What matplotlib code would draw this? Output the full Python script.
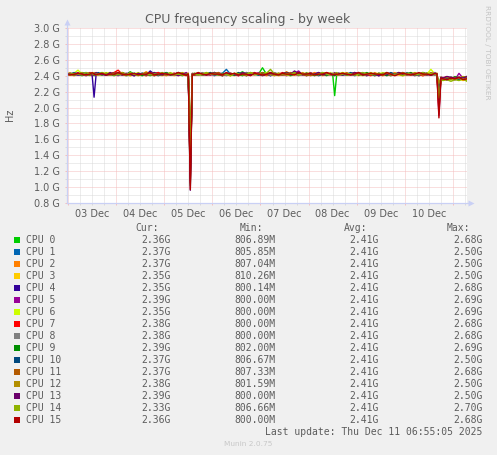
import matplotlib
matplotlib.use("Agg")
import matplotlib.pyplot as plt
from matplotlib.ticker import MultipleLocator, FuncFormatter, NullFormatter
from matplotlib.patches import Rectangle

W, H = 497, 455

# sample times, hours since 03 Dec 00:00
hours = [-1, 1, 3, 5, 7, 9, 11, 12, 13, 14,
         15, 17, 19, 21, 23, 25, 27, 29, 31, 33, 35, 37, 39, 41, 43, 45, 47, 49, 51, 53, 55, 57, 59,
         60, 61, 62,
         63, 65, 67, 69, 71, 73, 75, 77, 79, 81, 83, 85, 87, 89, 91, 93, 95, 97, 99, 101, 103, 105,
         107, 109, 111, 113, 115, 117, 119, 121, 123, 125, 127, 129, 131,
         132, 133, 134,
         135, 137, 139, 141, 143, 145, 147, 149, 151, 153, 155, 157, 159, 161, 163, 165, 167, 169,
         171, 173, 175, 177, 179, 181, 183,
         184, 185, 186,
         187, 189, 191, 193, 195, 197, 199]

# frequencies in GHz
cpu_0 = [2.42, 2.41, 2.43, 2.42, 2.40, 2.42, 2.43,  2.41, 2.42, 2.41,
         2.42, 2.44, 2.41, 2.42, 2.40,  2.43, 2.42, 2.41, 2.45, 2.42,  2.41, 2.43, 2.42, 2.40, 2.42,  2.44, 2.41, 2.42, 2.43, 2.41,  2.42, 2.40, 2.42,
         2.41, 1.02, 2.42,
         2.42, 2.41, 2.43, 2.42, 2.44,  2.41, 2.42, 2.40, 2.43, 2.42,  2.41, 2.42, 2.45, 2.42, 2.41,  2.43, 2.42, 2.50, 2.42, 2.41,  2.42, 2.43, 2.41, 2.42, 2.40,  2.42, 2.44, 2.41, 2.42, 2.43,  2.41, 2.42, 2.42, 2.40, 2.43,
         2.42, 2.15, 2.41,
         2.42, 2.43, 2.41, 2.42, 2.44,  2.41, 2.42, 2.40, 2.43, 2.42,  2.41, 2.43, 2.42, 2.41, 2.42,  2.44, 2.42, 2.41, 2.43, 2.42,  2.40, 2.42, 2.43, 2.41, 2.42,
         2.42, 2.10, 2.36,  2.37, 2.35, 2.38, 2.36, 2.37, 2.35, 2.36]
cpu_1 = [2.41, 2.43, 2.42, 2.41, 2.42, 2.44, 2.41,  2.42, 2.43, 2.42,
         2.43, 2.41, 2.42, 2.42, 2.41,  2.44, 2.42, 2.40, 2.41, 2.43,  2.42, 2.42, 2.41, 2.43, 2.40,  2.42, 2.41, 2.44, 2.42, 2.41,  2.43, 2.42, 2.41,
         2.42, 1.25, 2.41,
         2.41, 2.42, 2.43, 2.41, 2.42,  2.40, 2.42, 2.43, 2.48, 2.42,  2.41, 2.43, 2.42, 2.41, 2.44,  2.42, 2.41, 2.42, 2.43, 2.40,  2.42, 2.41, 2.43, 2.42, 2.42,  2.44, 2.41, 2.42, 2.40, 2.43,  2.42, 2.41, 2.42, 2.43, 2.41,
         2.41, 2.42, 2.43,
         2.42, 2.41, 2.43, 2.42, 2.40,  2.42, 2.44, 2.41, 2.42, 2.43,  2.41, 2.42, 2.42, 2.40, 2.43,  2.42, 2.41, 2.44, 2.42, 2.41,  2.43, 2.42, 2.41, 2.42, 2.43,
         2.41, 2.15, 2.37,  2.36, 2.38, 2.37, 2.35, 2.38, 2.36, 2.37]
cpu_2 = [2.43, 2.42, 2.40, 2.42, 2.43, 2.41, 2.42,  2.41, 2.42, 2.44,
         2.42, 2.41, 2.43, 2.42, 2.44,  2.41, 2.42, 2.43, 2.40, 2.42,  2.41, 2.42, 2.45, 2.42, 2.41,  2.43, 2.42, 2.40, 2.42, 2.43,  2.41, 2.42, 2.43,
         2.43, 1.35, 2.41,
         2.42, 2.44, 2.41, 2.42, 2.43,  2.41, 2.42, 2.40, 2.42, 2.43,  2.42, 2.41, 2.42, 2.44, 2.42,  2.41, 2.43, 2.42, 2.40, 2.42,  2.43, 2.41, 2.42, 2.45, 2.42,  2.41, 2.42, 2.43, 2.41, 2.42,  2.44, 2.42, 2.41, 2.42, 2.43,
         2.42, 2.41, 2.42,
         2.41, 2.42, 2.44, 2.41, 2.43,  2.42, 2.41, 2.42, 2.43, 2.40,  2.42, 2.43, 2.41, 2.42, 2.44,  2.41, 2.42, 2.43, 2.42, 2.41,  2.42, 2.40, 2.43, 2.42, 2.41,
         2.42, 2.20, 2.36,  2.37, 2.36, 2.38, 2.35, 2.37, 2.38, 2.37]
cpu_3 = [2.42, 2.44, 2.41, 2.42, 2.43, 2.42, 2.40,  2.42, 2.41, 2.43,
         2.41, 2.42, 2.44, 2.42, 2.41,  2.43, 2.42, 2.42, 2.40, 2.41,  2.43, 2.42, 2.41, 2.42, 2.44,  2.42, 2.43, 2.41, 2.42, 2.40,  2.42, 2.43, 2.41,
         2.42, 1.40, 2.42,
         2.43, 2.41, 2.42, 2.44, 2.42,  2.41, 2.43, 2.42, 2.41, 2.42,  2.40, 2.42, 2.43, 2.41, 2.42,  2.44, 2.42, 2.41, 2.43, 2.42,  2.42, 2.40, 2.41, 2.43, 2.42,  2.41, 2.42, 2.44, 2.42, 2.41,  2.43, 2.42, 2.40, 2.42, 2.41,
         2.43, 2.42, 2.41,
         2.42, 2.43, 2.41, 2.42, 2.42,  2.40, 2.43, 2.42, 2.41, 2.44,  2.42, 2.41, 2.43, 2.42, 2.42,  2.41, 2.40, 2.42, 2.43, 2.41,  2.42, 2.44, 2.42, 2.41, 2.42,
         2.43, 2.25, 2.35,  2.36, 2.37, 2.35, 2.37, 2.36, 2.34, 2.35]
cpu_4 = [2.41, 2.42, 2.43, 2.41, 2.42, 2.40, 2.42,  2.42, 2.13, 2.41,
         2.43, 2.42, 2.41, 2.42, 2.44,  2.42, 2.41, 2.43, 2.42, 2.40,  2.42, 2.43, 2.41, 2.46, 2.42,  2.41, 2.42, 2.43, 2.42, 2.41,  2.44, 2.42, 2.41,
         2.42, 1.15, 2.42,
         2.41, 2.42, 2.43, 2.42, 2.41,  2.44, 2.42, 2.40, 2.42, 2.43,  2.41, 2.42, 2.42, 2.44, 2.41,  2.43, 2.42, 2.41, 2.42, 2.40,  2.43, 2.42, 2.41, 2.44, 2.42,  2.42, 2.41, 2.43, 2.42, 2.41,  2.42, 2.44, 2.42, 2.41, 2.42,
         2.42, 2.43, 2.42,
         2.41, 2.42, 2.43, 2.41, 2.42,  2.44, 2.42, 2.41, 2.42, 2.43,  2.40, 2.42, 2.41, 2.43, 2.42,  2.42, 2.44, 2.41, 2.42, 2.40,  2.43, 2.42, 2.41, 2.42, 2.44,
         2.42, 2.18, 2.36,  2.37, 2.35, 2.36, 2.38, 2.36, 2.37, 2.35]
cpu_5 = [2.42, 2.41, 2.42, 2.44, 2.41, 2.43, 2.42,  2.40, 2.42, 2.41,
         2.42, 2.43, 2.42, 2.41, 2.42,  2.40, 2.43, 2.42, 2.44, 2.41,  2.42, 2.42, 2.43, 2.41, 2.42,  2.44, 2.42, 2.41, 2.42, 2.43,  2.41, 2.42, 2.44,
         2.41, 1.08, 2.43,
         2.42, 2.41, 2.42, 2.43, 2.41,  2.42, 2.44, 2.42, 2.41, 2.43,  2.42, 2.40, 2.42, 2.41, 2.43,  2.42, 2.44, 2.41, 2.42, 2.42,  2.41, 2.43, 2.42, 2.40, 2.42,  2.43, 2.46, 2.41, 2.42, 2.44,  2.41, 2.42, 2.43, 2.42, 2.41,
         2.42, 2.44, 2.42,
         2.43, 2.41, 2.42, 2.42, 2.44,  2.41, 2.42, 2.40, 2.43, 2.42,  2.41, 2.42, 2.44, 2.42, 2.41,  2.43, 2.42, 2.41, 2.42, 2.43,  2.40, 2.42, 2.43, 2.41, 2.42,
         2.41, 1.90, 2.37,  2.38, 2.36, 2.37, 2.35, 2.43, 2.37, 2.39]
cpu_6 = [2.42, 2.41, 2.43, 2.47, 2.42, 2.41, 2.42,  2.43, 2.42, 2.41,
         2.41, 2.42, 2.43, 2.44, 2.42,  2.41, 2.42, 2.40, 2.43, 2.42,  2.44, 2.41, 2.42, 2.43, 2.42,  2.41, 2.40, 2.42, 2.44, 2.42,  2.41, 2.43, 2.42,
         2.42, 1.45, 2.41,
         2.43, 2.42, 2.41, 2.42, 2.44,  2.42, 2.41, 2.43, 2.42, 2.40,  2.42, 2.44, 2.41, 2.42, 2.43,  2.41, 2.42, 2.42, 2.44, 2.41,  2.42, 2.43, 2.42, 2.41, 2.40,  2.42, 2.43, 2.41, 2.44, 2.42,  2.42, 2.41, 2.43, 2.42, 2.44,
         2.41, 2.42, 2.43,
         2.42, 2.44, 2.42, 2.41, 2.43,  2.42, 2.40, 2.42, 2.43, 2.41,  2.42, 2.44, 2.42, 2.41, 2.42,  2.43, 2.41, 2.42, 2.44, 2.42,  2.41, 2.43, 2.42, 2.48, 2.42,
         2.43, 2.22, 2.35,  2.34, 2.36, 2.35, 2.37, 2.34, 2.36, 2.35]
cpu_7 = [2.41, 2.42, 2.42, 2.43, 2.41, 2.42, 2.44,  2.42, 2.41, 2.42,
         2.43, 2.42, 2.41, 2.42, 2.44,  2.47, 2.42, 2.41, 2.43, 2.42,  2.41, 2.42, 2.40, 2.43, 2.42,  2.44, 2.41, 2.42, 2.42, 2.43,  2.41, 2.42, 2.40,
         2.42, 1.05, 2.42,
         2.41, 2.43, 2.42, 2.42, 2.41,  2.44, 2.42, 2.41, 2.43, 2.42,  2.42, 2.40, 2.43, 2.41, 2.42,  2.44, 2.42, 2.41, 2.42, 2.43,  2.41, 2.42, 2.44, 2.42, 2.41,  2.42, 2.43, 2.42, 2.40, 2.42,  2.43, 2.41, 2.42, 2.44, 2.42,
         2.42, 2.41, 2.43,
         2.42, 2.41, 2.43, 2.42, 2.44,  2.42, 2.41, 2.42, 2.40, 2.43,  2.42, 2.41, 2.42, 2.43, 2.41,  2.44, 2.42, 2.42, 2.41, 2.43,  2.42, 2.40, 2.42, 2.41, 2.43,
         2.42, 1.95, 2.38,  2.37, 2.39, 2.36, 2.38, 2.37, 2.36, 2.38]
cpu_8 = [2.42, 2.43, 2.41, 2.42, 2.42, 2.44, 2.41,  2.42, 2.43, 2.42,
         2.41, 2.42, 2.43, 2.41, 2.42,  2.42, 2.44, 2.41, 2.42, 2.40,  2.43, 2.42, 2.41, 2.42, 2.43,  2.42, 2.44, 2.41, 2.42, 2.41,  2.43, 2.42, 2.42,
         2.41, 1.30, 2.42,
         2.42, 2.41, 2.44, 2.42, 2.42,  2.41, 2.43, 2.42, 2.40, 2.42,  2.43, 2.41, 2.42, 2.44, 2.42,  2.41, 2.42, 2.43, 2.42, 2.41,  2.44, 2.42, 2.41, 2.42, 2.43,  2.42, 2.40, 2.42, 2.43, 2.41,  2.42, 2.42, 2.44, 2.41, 2.42,
         2.43, 2.42, 2.41,
         2.42, 2.42, 2.41, 2.43, 2.42,  2.44, 2.41, 2.42, 2.43, 2.42,  2.40, 2.42, 2.41, 2.43, 2.42,  2.42, 2.44, 2.42, 2.41, 2.42,  2.43, 2.41, 2.42, 2.42, 2.44,
         2.41, 2.28, 2.37,  2.36, 2.38, 2.37, 2.36, 2.38, 2.37, 2.38]
cpu_9 = [2.43, 2.42, 2.41, 2.42, 2.44, 2.42, 2.41,  2.43, 2.42, 2.42,
         2.42, 2.41, 2.43, 2.42, 2.41,  2.42, 2.44, 2.42, 2.41, 2.43,  2.42, 2.40, 2.42, 2.41, 2.43,  2.42, 2.42, 2.44, 2.41, 2.42,  2.42, 2.43, 2.41,
         2.42, 1.20, 2.41,
         2.42, 2.43, 2.41, 2.42, 2.42,  2.44, 2.41, 2.42, 2.43, 2.42,  2.41, 2.42, 2.40, 2.43, 2.42,  2.42, 2.41, 2.44, 2.42, 2.43,  2.41, 2.42, 2.42, 2.44, 2.41,  2.42, 2.43, 2.42, 2.41, 2.42,  2.40, 2.43, 2.42, 2.41, 2.42,
         2.42, 2.40, 2.42,
         2.43, 2.42, 2.41, 2.42, 2.43,  2.41, 2.42, 2.44, 2.42, 2.41,  2.43, 2.42, 2.40, 2.42, 2.41,  2.42, 2.43, 2.42, 2.44, 2.41,  2.42, 2.42, 2.43, 2.41, 2.42,
         2.42, 2.24, 2.38,  2.37, 2.38, 2.36, 2.39, 2.37, 2.38, 2.39]
cpu_10 = [2.41, 2.42, 2.44, 2.42, 2.41, 2.43, 2.42,  2.42, 2.40, 2.42,
          2.44, 2.42, 2.41, 2.42, 2.43,  2.41, 2.42, 2.42, 2.44, 2.42,  2.41, 2.43, 2.42, 2.41, 2.42,  2.40, 2.42, 2.43, 2.41, 2.42,  2.44, 2.42, 2.42,
          2.41, 1.50, 2.42,
          2.43, 2.42, 2.41, 2.42, 2.44,  2.41, 2.42, 2.43, 2.42, 2.42,  2.41, 2.44, 2.42, 2.40, 2.42,  2.43, 2.41, 2.42, 2.42, 2.44,  2.42, 2.41, 2.43, 2.42, 2.41,  2.42, 2.44, 2.42, 2.43, 2.41,  2.42, 2.40, 2.42, 2.43, 2.42,
          2.41, 2.43, 2.42,
          2.42, 2.41, 2.42, 2.44, 2.42,  2.43, 2.41, 2.42, 2.42, 2.40,  2.43, 2.42, 2.41, 2.44, 2.42,  2.42, 2.41, 2.43, 2.42, 2.42,  2.41, 2.44, 2.42, 2.43, 2.41,
          2.42, 2.26, 2.36,  2.37, 2.36, 2.38, 2.37, 2.35, 2.38, 2.37]
cpu_11 = [2.42, 2.42, 2.41, 2.43, 2.42, 2.41, 2.44,  2.41, 2.42, 2.43,
          2.42, 2.43, 2.42, 2.41, 2.42,  2.44, 2.41, 2.42, 2.43, 2.42,  2.41, 2.42, 2.44, 2.42, 2.40,  2.42, 2.43, 2.41, 2.42, 2.42,  2.44, 2.41, 2.42,
          2.43, 1.10, 2.42,
          2.41, 2.42, 2.43, 2.41, 2.42,  2.42, 2.44, 2.41, 2.42, 2.43,  2.42, 2.41, 2.42, 2.40, 2.43,  2.42, 2.42, 2.44, 2.41, 2.42,  2.43, 2.42, 2.41, 2.42, 2.44,  2.42, 2.41, 2.43, 2.42, 2.40,  2.42, 2.43, 2.41, 2.42, 2.42,
          2.42, 2.43, 2.41,
          2.41, 2.43, 2.42, 2.42, 2.41,  2.44, 2.42, 2.43, 2.41, 2.42,  2.42, 2.40, 2.43, 2.42, 2.41,  2.42, 2.44, 2.42, 2.41, 2.43,  2.42, 2.42, 2.41, 2.44, 2.42,
          2.43, 2.00, 2.37,  2.36, 2.38, 2.37, 2.36, 2.38, 2.36, 2.37]
cpu_12 = [2.43, 2.41, 2.42, 2.42, 2.44, 2.41, 2.42,  2.42, 2.44, 2.42,
          2.41, 2.42, 2.42, 2.43, 2.41,  2.42, 2.44, 2.42, 2.41, 2.42,  2.43, 2.42, 2.40, 2.42, 2.44,  2.41, 2.42, 2.43, 2.42, 2.41,  2.42, 2.44, 2.42,
          2.42, 1.60, 2.43,
          2.42, 2.42, 2.41, 2.43, 2.42,  2.44, 2.42, 2.41, 2.42, 2.40,  2.43, 2.42, 2.42, 2.41, 2.44,  2.42, 2.43, 2.41, 2.42, 2.42,  2.40, 2.43, 2.42, 2.41, 2.42,  2.44, 2.42, 2.42, 2.41, 2.43,  2.42, 2.41, 2.44, 2.42, 2.42,
          2.43, 2.42, 2.42,
          2.42, 2.44, 2.41, 2.42, 2.43,  2.42, 2.42, 2.41, 2.44, 2.42,  2.43, 2.41, 2.42, 2.40, 2.42,  2.43, 2.42, 2.41, 2.42, 2.44,  2.42, 2.41, 2.43, 2.42, 2.42,
          2.42, 2.30, 2.38,  2.37, 2.38, 2.36, 2.38, 2.37, 2.39, 2.38]
cpu_13 = [2.42, 2.43, 2.42, 2.41, 2.42, 2.42, 2.43,  2.41, 2.42, 2.44,
          2.42, 2.42, 2.41, 2.44, 2.42,  2.43, 2.41, 2.42, 2.42, 2.40,  2.43, 2.42, 2.41, 2.42, 2.44,  2.42, 2.41, 2.42, 2.43, 2.42,  2.40, 2.42, 2.43,
          2.41, 0.96, 2.42,
          2.42, 2.43, 2.42, 2.41, 2.42,  2.44, 2.41, 2.42, 2.43, 2.42,  2.42, 2.41, 2.44, 2.42, 2.41,  2.43, 2.42, 2.40, 2.42, 2.43,  2.42, 2.41, 2.42, 2.44, 2.42,  2.46, 2.42, 2.41, 2.43, 2.42,  2.42, 2.44, 2.41, 2.42, 2.43,
          2.42, 2.41, 2.43,
          2.43, 2.42, 2.42, 2.41, 2.44,  2.42, 2.43, 2.41, 2.42, 2.42,  2.40, 2.43, 2.42, 2.41, 2.42,  2.44, 2.42, 2.42, 2.43, 2.41,  2.42, 2.44, 2.42, 2.41, 2.42,
          2.42, 2.05, 2.38,  2.37, 2.39, 2.38, 2.37, 2.38, 2.37, 2.39]
cpu_14 = [2.41, 2.42, 2.43, 2.42, 2.41, 2.44, 2.42,  2.43, 2.41, 2.42,
          2.42, 2.44, 2.42, 2.41, 2.43,  2.42, 2.42, 2.41, 2.44, 2.42,  2.40, 2.42, 2.43, 2.41, 2.42,  2.42, 2.44, 2.41, 2.43, 2.42,  2.42, 2.41, 2.42,
          2.42, 1.38, 2.41,
          2.42, 2.41, 2.42, 2.44, 2.42,  2.43, 2.41, 2.42, 2.42, 2.40,  2.43, 2.42, 2.41, 2.42, 2.44,  2.42, 2.42, 2.41, 2.43, 2.48,  2.42, 2.41, 2.42, 2.43, 2.42,  2.44, 2.41, 2.42, 2.42, 2.43,  2.41, 2.42, 2.44, 2.42, 2.41,
          2.42, 2.42, 2.44,
          2.41, 2.42, 2.43, 2.42, 2.41,  2.42, 2.44, 2.42, 2.42, 2.41,  2.43, 2.42, 2.44, 2.41, 2.42,  2.42, 2.40, 2.43, 2.42, 2.41,  2.42, 2.44, 2.42, 2.43, 2.42,
          2.41, 2.12, 2.35,  2.34, 2.35, 2.33, 2.35, 2.34, 2.36, 2.33]
cpu_15 = [2.42, 2.41, 2.42, 2.43, 2.42, 2.41, 2.42,  2.44, 2.42, 2.41,
          2.42, 2.43, 2.41, 2.42, 2.42,  2.44, 2.42, 2.41, 2.42, 2.43,  2.41, 2.42, 2.42, 2.44, 2.41,  2.42, 2.43, 2.42, 2.41, 2.42,  2.44, 2.42, 2.41,
          2.42, 0.97, 2.41,
          2.42, 2.44, 2.42, 2.41, 2.43,  2.42, 2.42, 2.41, 2.44, 2.42,  2.43, 2.41, 2.42, 2.42, 2.40,  2.43, 2.42, 2.41, 2.42, 2.44,  2.42, 2.41, 2.43, 2.42, 2.42,  2.41, 2.44, 2.42, 2.42, 2.43,  2.41, 2.42, 2.42, 2.44, 2.42,
          2.41, 2.42, 2.42,
          2.42, 2.43, 2.42, 2.41, 2.42,  2.44, 2.41, 2.42, 2.43, 2.42,  2.42, 2.41, 2.44, 2.42, 2.40,  2.42, 2.43, 2.42, 2.41, 2.42,  2.44, 2.42, 2.42, 2.41, 2.43,
          2.42, 1.87, 2.37,  2.36, 2.35, 2.37, 2.36, 2.38, 2.35, 2.36]

names = ["CPU 0", "CPU 1", "CPU 2", "CPU 3", "CPU 4", "CPU 5", "CPU 6", "CPU 7",
         "CPU 8", "CPU 9", "CPU 10", "CPU 11", "CPU 12", "CPU 13", "CPU 14", "CPU 15"]
colors = ["#00CC00", "#0066B3", "#FF8000", "#FFCC00", "#330099", "#990099", "#CCFF00", "#FF0000",
          "#808080", "#008F00", "#00487D", "#B35A00", "#B38F00", "#6B006B", "#8FB300", "#B30000"]

cur_hz = [2.36e9, 2.37e9, 2.37e9, 2.35e9, 2.35e9, 2.39e9, 2.35e9, 2.38e9,
          2.38e9, 2.39e9, 2.37e9, 2.37e9, 2.38e9, 2.39e9, 2.33e9, 2.36e9]
min_hz = [806.89e6, 805.85e6, 807.04e6, 810.26e6, 800.14e6, 800.00e6, 800.00e6, 800.00e6,
          800.00e6, 802.00e6, 806.67e6, 807.33e6, 801.59e6, 800.00e6, 806.66e6, 800.00e6]
avg_hz = [2.41e9, 2.41e9, 2.41e9, 2.41e9, 2.41e9, 2.41e9, 2.41e9, 2.41e9,
          2.41e9, 2.41e9, 2.41e9, 2.41e9, 2.41e9, 2.41e9, 2.41e9, 2.41e9]
max_hz = [2.68e9, 2.50e9, 2.50e9, 2.50e9, 2.68e9, 2.69e9, 2.69e9, 2.68e9,
          2.68e9, 2.69e9, 2.50e9, 2.68e9, 2.50e9, 2.50e9, 2.70e9, 2.68e9]

day_labels = ["03 Dec", "04 Dec", "05 Dec", "06 Dec", "07 Dec", "08 Dec", "09 Dec", "10 Dec"]
day_noons = [12, 36, 60, 84, 108, 132, 156, 180]

series = [cpu_0, cpu_1, cpu_2, cpu_3, cpu_4, cpu_5, cpu_6, cpu_7,
          cpu_8, cpu_9, cpu_10, cpu_11, cpu_12, cpu_13, cpu_14, cpu_15]
for n, s in zip(names, series):
    if len(s) != len(hours):
        raise SystemExit(f"{n}: {len(s)} values vs {len(hours)} hours")

FONT = "#5c5c5c"
AXIS = "#C9D0F5"
MINOR = "#DADADA"
MAJOR = "#F5BEBE"

def fx(x):
    return x / W

def fy(y):
    return 1 - y / H

fig = plt.figure(figsize=(W / 100, H / 100), dpi=100, facecolor="#F0F0F0")
ax = fig.add_axes([fx(67), fy(203), 400 / W, 175 / H])
ax.set_facecolor("white")
ax.set_xlim(-0.5, 199)
ax.set_ylim(0.8, 3.0)
for sp in ax.spines.values():
    sp.set_visible(False)

ax.xaxis.set_major_locator(MultipleLocator(24))
ax.xaxis.set_minor_locator(MultipleLocator(6))
ax.yaxis.set_major_locator(MultipleLocator(0.2))
ax.yaxis.set_minor_locator(MultipleLocator(0.1))
ax.xaxis.set_major_formatter(NullFormatter())
ax.yaxis.set_major_formatter(FuncFormatter(lambda v, p: f"{v:.1f} G"))
ax.grid(which="major", color=MAJOR, linestyle=(0, (1, 1)), linewidth=0.72)
ax.grid(which="minor", color=MINOR, linestyle=(0, (1, 1)), linewidth=0.72)
ax.set_axisbelow(True)
ax.tick_params(which="major", length=1.6, width=0.72, color=MAJOR)
ax.tick_params(which="minor", length=1.6, width=0.72, color=MINOR)
ax.tick_params(axis="y", which="major", labelsize=7, labelcolor=FONT, pad=3.4)

sec = ax.secondary_xaxis("bottom")
sec.set_xticks(day_noons, labels=day_labels)
sec.tick_params(length=0, pad=4.5, labelsize=7, labelcolor=FONT)
for sp in sec.spines.values():
    sp.set_visible(False)

for s, c in zip(series, colors):
    ax.plot(hours, s, color=c, linewidth=1.0, zorder=3)

# axes with arrows
ax.plot([0, 0], [0, 1.03], transform=ax.transAxes, color=AXIS, lw=0.9, clip_on=False, zorder=4)
ax.plot([0, 1.003], [0, 0], transform=ax.transAxes, color=AXIS, lw=0.9, clip_on=False, zorder=4)
ax.plot([0], [1.034], transform=ax.transAxes, marker="^", ms=4.2, color=AXIS, mec="none", clip_on=False, zorder=4)
ax.plot([1.009], [0], transform=ax.transAxes, marker=">", ms=4.2, color=AXIS, mec="none", clip_on=False, zorder=4)

fig.text(fx(248), fy(19), "CPU frequency scaling - by week", ha="center", va="center", fontsize=9, color=FONT)
fig.text(fx(10), fy(115), "Hz", rotation=90, ha="center", va="center", fontsize=7, color=FONT)
fig.text(fx(487), fy(5), "RRDTOOL / TOBI OETIKER", rotation=270, ha="center", va="top", fontsize=5.3, color="#C4C4C4")

def fmt(v):
    return f"{v / 1e9:.2f}G" if v >= 1e9 else f"{v / 1e6:.2f}M"

mono = dict(family="DejaVu Sans Mono", fontsize=7, color=FONT, va="center")
col_right = [171, 275.5, 379, 482.5]
hdr_right = [159, 263, 367, 470]
for xr, t in zip(hdr_right, ["Cur:", "Min:", "Avg:", "Max:"]):
    fig.text(fx(xr), fy(228), t, ha="right", **mono)

for i, (n, c) in enumerate(zip(names, colors)):
    yc = 240 + 12 * i
    fig.add_artist(Rectangle((fx(14), fy(yc + 3)), 6 / W, 6 / H, transform=fig.transFigure,
                             facecolor=c, edgecolor="none"))
    fig.text(fx(26), fy(yc), n, ha="left", **mono)
    for xr, v in zip(col_right, [cur_hz[i], min_hz[i], avg_hz[i], max_hz[i]]):
        fig.text(fx(xr), fy(yc), fmt(v), ha="right", **mono)

fig.text(fx(482.5), fy(432), "Last update: Thu Dec 11 06:55:05 2025", ha="right", **mono)
fig.text(fx(248), fy(444), "Munin 2.0.75", ha="center", va="center", fontsize=5.3, color="#C8C8C8")

fig.savefig("out.png", dpi=100, facecolor=fig.get_facecolor())
